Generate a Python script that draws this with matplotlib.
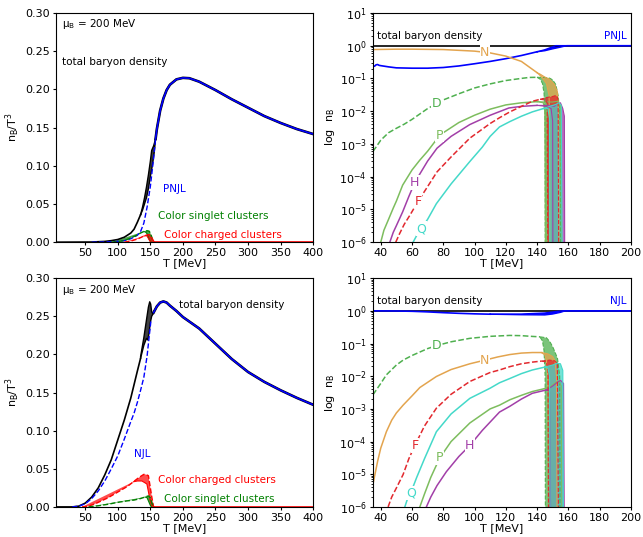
import numpy as np
import matplotlib
matplotlib.use("Agg")
import matplotlib.pyplot as plt

plt.rcParams['font.size'] = 8
plt.rcParams['xtick.major.size'] = 2.5
plt.rcParams['ytick.major.size'] = 2.5
plt.rcParams['xtick.major.pad'] = 2
plt.rcParams['ytick.major.pad'] = 2
plt.rcParams['ytick.minor.size'] = 1.5

# ---------------- linear panels: n_B / T^3 ----------------
# PNJL (top left)
T_pn_blue = [5, 60, 80, 100, 110, 120, 130, 135, 140, 145, 150, 155, 158, 160, 165, 170, 175,
             180, 190, 200, 210, 225, 250, 275, 300, 325, 350, 375, 400]
n_pn_blue = [0, 0, 0.0003, 0.001, 0.002, 0.0045, 0.009, 0.014, 0.025, 0.046, 0.073, 0.11, 0.135,
             0.148, 0.172, 0.188, 0.199, 0.206, 0.213, 0.215, 0.2145, 0.21, 0.199, 0.187, 0.176,
             0.165, 0.156, 0.148, 0.1415]
T_pn_tot = [5, 60, 80, 90, 100, 110, 120, 125, 130, 135]
n_pn_tot = [0, 0.0002, 0.001, 0.002, 0.0035, 0.0065, 0.012, 0.017, 0.026, 0.036]
T_pn_tot_hi = [135, 138, 141, 144, 147, 150, 152, 155, 158]
n_pn_tot_hi = [0.036, 0.046, 0.058, 0.072, 0.088, 0.106, 0.12, 0.126, 0.135]
T_pn_tot_lo = [135, 138, 141, 144, 147, 150, 153, 156, 158]
n_pn_tot_lo = [0.036, 0.042, 0.05, 0.058, 0.07, 0.086, 0.1, 0.118, 0.135]
T_pn_sing = [90, 100, 110, 120, 130, 135, 140, 145, 148, 150, 152, 154, 156]
n_pn_sing = [0, 0.0008, 0.002, 0.0055, 0.0095, 0.012, 0.014, 0.015, 0.0145, 0.012, 0.007, 0.002, 0]
T_pn_sing_lo = [140, 143, 145, 147, 149, 151]
n_pn_sing_lo = [0.014, 0.013, 0.011, 0.006, 0.002, 0]
T_pn_char = [110, 120, 130, 135, 140, 145, 148, 150, 152, 154, 156]
n_pn_char = [0, 0.0015, 0.004, 0.006, 0.008, 0.0095, 0.0098, 0.009, 0.006, 0.003, 0]
T_pn_char_lo = [140, 143, 145, 147, 149, 150.5]
n_pn_char_lo = [0.008, 0.0085, 0.008, 0.005, 0.002, 0]

# NJL (bottom left)
T_nj_blue = [5, 30, 40, 50, 60, 70, 80, 90, 100, 110, 120, 125, 130, 135, 140, 145, 148, 151,
             155, 160, 165, 170, 175, 180, 190, 200, 225, 250, 275, 300, 325, 350, 375, 400]
n_nj_blue = [0, 0, 0.001, 0.004, 0.011, 0.021, 0.034, 0.05, 0.067, 0.089, 0.112, 0.123, 0.137,
             0.153, 0.17, 0.198, 0.222, 0.245, 0.255, 0.263, 0.268, 0.2695, 0.268, 0.264, 0.257,
             0.249, 0.234, 0.214, 0.194, 0.177, 0.164, 0.153, 0.143, 0.134]
T_nj_tot = [5, 30, 40, 50, 60, 70, 80, 90, 100, 110, 120, 130, 135]
n_nj_tot = [0, 0, 0.001, 0.005, 0.013, 0.025, 0.042, 0.062, 0.088, 0.114, 0.143, 0.178, 0.195]
T_nj_tot_hi = [135, 140, 144, 147, 149, 150.5, 152, 154, 156]
n_nj_tot_hi = [0.197, 0.222, 0.245, 0.262, 0.269, 0.266, 0.256, 0.253, 0.257]
T_nj_tot_lo = [135, 140, 144, 146, 148, 150, 152, 154, 156]
n_nj_tot_lo = [0.195, 0.212, 0.221, 0.219, 0.228, 0.242, 0.25, 0.253, 0.257]
T_nj_char = [45, 55, 65, 75, 85, 95, 105, 115, 124, 130, 135, 140, 143, 147, 150, 152.4, 155]
n_nj_char = [0, 0.001, 0.004, 0.008, 0.012, 0.017, 0.022, 0.027, 0.033, 0.037, 0.04, 0.0427,
             0.0425, 0.041, 0.025, 0.012, 0]
T_nj_char_lo = [124, 130, 137, 141, 144.7, 147, 149.8, 152.4]
n_nj_char_lo = [0.033, 0.034, 0.034, 0.032, 0.03, 0.02, 0.008, 0]
T_nj_sing = [55, 70, 85, 100, 115, 125, 135, 142, 147, 150, 152, 154, 156]
n_nj_sing = [0, 0.0015, 0.0035, 0.006, 0.008, 0.009, 0.011, 0.013, 0.0145, 0.012, 0.006, 0.002, 0]
T_nj_sing_lo = [142, 145, 148, 150, 151.5]
n_nj_sing_lo = [0.013, 0.012, 0.006, 0.002, 0]

T_zero_tail = [155, 400]

# ---------------- log panels: cluster fractions ----------------
FLOOR = 1e-8
colors = {'N': '#e3a44e', 'D': '#4fb04f', 'P': '#7dbd5e', 'H': '#a23fa8', 'F': '#e2282e', 'Q': '#44d9c9'}
styles = {'N': '-', 'D': '--', 'P': '-', 'H': '-', 'F': '--', 'Q': '-'}

# PNJL (top right): main curve, upper band edge, lower band edge
pn = {
    'N': ([35, 50, 60, 80, 100, 110, 120, 130, 140],
          [0.76, 0.78, 0.78, 0.76, 0.68, 0.6, 0.48, 0.33, 0.15],
          [140, 142, 145, 148, 151, 153, 153.8, 154.1], [0.15, 0.135, 0.11, 0.094, 0.067, 0.04, 0.01, FLOOR],
          [140, 143, 146, 147.7, 148.1, 148.2], [0.15, 0.11, 0.07, 0.03, 0.003, FLOOR]),
    'D': ([35, 37, 40, 45, 50, 55, 60, 70, 80, 90, 100, 110, 120, 130, 135, 140],
          [5.9e-4, 8e-4, 1.3e-3, 2.2e-3, 3.0e-3, 4.0e-3, 5.6e-3, 1.2e-2, 2.2e-2, 3.4e-2, 5.1e-2,
           6.8e-2, 8.6e-2, 0.1, 0.107, 0.108],
          [140, 145, 148, 150, 152, 153.5, 154.5, 155, 155.2], [0.108, 0.107, 0.102, 0.09, 0.065, 0.03, 0.01, 1e-3, FLOOR],
          [140, 142, 143.5, 144.5, 145, 145.2, 145.3], [0.108, 0.095, 0.07, 0.035, 0.01, 1e-3, FLOOR]),
    'P': ([40, 42, 45, 48, 50, 54, 60, 65, 70, 78, 90, 100, 110, 120, 130, 140],
          [1e-6, 2.3e-6, 5e-6, 1.1e-5, 1.8e-5, 5.5e-5, 1.6e-4, 3.2e-4, 6e-4, 1.9e-3, 4.5e-3,
           7.5e-3, 1.15e-2, 1.55e-2, 1.8e-2, 1.95e-2],
          [140, 146, 150, 153, 155, 156], [0.0195, 0.019, 0.019, 0.02, 0.015, FLOOR],
          [140, 144, 145, 145.5], [0.0195, 0.018, 0.01, FLOOR]),
    'H': ([45.8, 48, 50, 54, 58, 62, 70, 76, 85, 97, 110, 122, 130, 140],
          [1e-6, 2e-6, 3.2e-6, 8.4e-6, 2.5e-5, 7e-5, 3e-4, 7.4e-4, 1.7e-3, 3.9e-3, 7.5e-3,
           1.25e-2, 1.4e-2, 1.5e-2],
          [140, 148, 151, 153, 155, 156.5, 157.5, 157.8], [0.015, 0.015, 0.014, 0.017, 0.018, 0.012, 0.007, FLOOR],
          [140, 146, 149, 150, 150.2], [0.015, 0.014, 0.012, 0.005, FLOOR]),
    'F': ([49.6, 52, 55, 58.6, 64, 70, 76, 85, 97, 110, 116, 122.6, 130, 137, 142],
          [1e-6, 1.8e-6, 3.5e-6, 6.6e-6, 1.8e-5, 5e-5, 1.4e-4, 4e-4, 1.5e-3, 4.2e-3, 6.3e-3,
           9.5e-3, 1.4e-2, 2e-2, 2.3e-2],
          [142, 146, 150, 152, 153, 153.5, 154], [0.023, 0.026, 0.028, 0.03, 0.027, 0.02, FLOOR],
          [142, 145, 146.5, 147], [0.023, 0.022, 0.018, FLOOR]),
    'Q': ([60.7, 63, 66, 70, 75.6, 85, 97, 105, 110, 116, 122.6, 130, 137, 144],
          [1e-6, 1.6e-6, 2.6e-6, 5e-6, 1.5e-5, 6e-5, 2.9e-4, 8e-4, 1.7e-3, 3.3e-3, 4.8e-3, 7e-3,
           9.5e-3, 1.2e-2],
          [144, 148, 152, 154, 155.5, 156.3], [0.012, 0.014, 0.016, 0.018, 0.015, FLOOR],
          [144, 147, 148, 148.3], [0.012, 0.012, 0.006, FLOOR]),
}
pn_blue = ([35, 36, 37, 38, 39, 40, 45, 50, 60, 70, 80, 90, 100, 110, 120, 130, 137, 140],
           [0.24, 0.235, 0.26, 0.265, 0.25, 0.245, 0.225, 0.21, 0.205, 0.205, 0.215, 0.24, 0.28,
            0.33, 0.4, 0.5, 0.6, 0.65],
           [140, 145, 150, 152, 200], [0.65, 0.75, 0.92, 1.0, 1.0],
           [140, 145, 150, 155, 159, 200], [0.65, 0.7, 0.8, 0.9, 1.0, 1.0])

# NJL (bottom right)
nj = {
    'D': ([35, 40, 43.6, 50, 54.3, 60, 70, 75.6, 85, 97, 110, 122.6, 130, 137, 142],
          [2.7e-3, 6e-3, 1.1e-2, 2.2e-2, 3.1e-2, 4.3e-2, 7e-2, 8.6e-2, 0.113, 0.144, 0.166,
           0.177, 0.174, 0.165, 0.16],
          [142, 146, 148.2, 150, 151.4, 153.1, 154.5, 154.8], [0.16, 0.15, 0.114, 0.08, 0.056, 0.035, 0.01, FLOOR],
          [142, 143.5, 144.5, 145.2, 145.4], [0.155, 0.12, 0.06, 0.01, FLOOR]),
    'N': ([35, 38, 40, 43.6, 47, 50, 54.3, 60, 65, 75.6, 85, 97, 106.6, 115, 122.6, 130, 137, 143],
          [4.9e-6, 2.5e-5, 6.3e-5, 2e-4, 4.5e-4, 7.5e-4, 1.3e-3, 2.5e-3, 4.5e-3, 9.8e-3, 1.6e-2,
           2.4e-2, 3.1e-2, 3.9e-2, 4.6e-2, 5.1e-2, 5.3e-2, 5.3e-2],
          [143, 147, 150, 151.5, 152.5, 153], [0.053, 0.048, 0.04, 0.03, 0.01, FLOOR],
          [143, 145, 146, 147, 147.5], [0.052, 0.045, 0.03, 0.008, FLOOR]),
    'F': ([44.7, 47, 50, 54.3, 58, 61.8, 68, 75.6, 85, 97, 110, 116, 122.6, 130, 137, 143],
          [1e-6, 2e-6, 3.8e-6, 9.8e-6, 3e-5, 7.6e-5, 3e-4, 1.05e-3, 2.8e-3, 6.9e-3, 1.3e-2,
           1.55e-2, 1.96e-2, 2.4e-2, 2.7e-2, 2.9e-2],
          [143, 148, 151, 153, 154], [0.029, 0.031, 0.03, 0.025, FLOOR],
          [143, 146, 147, 147.5], [0.029, 0.027, 0.015, FLOOR]),
    'Q': ([55.4, 57, 59.2, 63, 68, 75.6, 85, 97, 110, 116, 122.6, 130, 137, 145],
          [1e-6, 1.7e-6, 2.7e-6, 8e-6, 3e-5, 2e-4, 7e-4, 2.1e-3, 4.3e-3, 6.3e-3, 8.5e-3,
           1.2e-2, 1.55e-2, 1.9e-2],
          [145, 150, 153, 155, 156.5, 157], [0.019, 0.022, 0.025, 0.024, 0.015, FLOOR],
          [145, 147, 148, 148.5], [0.019, 0.018, 0.01, FLOOR]),
    'P': ([65, 68, 72, 77.8, 85, 97, 110, 116, 122.6, 130, 137, 146],
          [1e-6, 2.5e-6, 8e-6, 3.2e-5, 1e-4, 3.7e-4, 1e-3, 1.3e-3, 1.9e-3, 2.6e-3, 3.4e-3, 4.3e-3],
          [146, 149, 152, 154, 155.5, 156], [0.0043, 0.005, 0.0065, 0.007, 0.005, FLOOR],
          [146, 147, 147.5], [0.0043, 0.0035, FLOOR]),
    'H': ([69.2, 72, 76, 82, 90, 97, 105, 116, 122.6, 130, 137, 146],
          [1e-6, 2e-6, 4.5e-6, 1.2e-5, 3.5e-5, 7.6e-5, 2.2e-4, 8e-4, 1.2e-3, 2e-3, 3e-3, 3.8e-3],
          [146, 150, 153, 155, 157, 157.6], [0.0038, 0.005, 0.0065, 0.0075, 0.006, FLOOR],
          [146, 148, 149], [0.0038, 0.0035, FLOOR]),
}
nj_blue = ([35, 50, 60, 70, 80, 90, 100, 110],
           [1.0, 0.99, 0.97, 0.93, 0.88, 0.84, 0.81, 0.79],
           [110, 130, 145, 152, 156, 200], [0.79, 0.8, 0.86, 0.95, 1.0, 1.0],
           [110, 130, 145, 150, 155, 158, 200], [0.79, 0.76, 0.75, 0.8, 0.9, 1.0, 1.0])

T_lab_pn = {'N': 106.6, 'D': 75.6, 'P': 77.8, 'H': 61.8, 'F': 64, 'Q': 66}
T_lab_nj = {'D': 75.6, 'N': 106.6, 'F': 61.8, 'Q': 59.2, 'P': 77.8, 'H': 97}


def lin_panel(ax, Tb, nb, Tcut, Tt, nt, Tth, nth, Ttl, ntl, colored, texts):
    Tb = np.array(Tb)
    nb = np.array(nb)
    ax.plot(Tt, nt, color='k', lw=1.2)
    ax.fill(np.r_[Tth, Ttl[::-1]], np.r_[nth, ntl[::-1]], color='#404040', lw=0)
    ax.plot(Tth, nth, color='k', lw=1.0)
    ax.plot(Ttl, ntl, color='k', lw=1.0)
    m = Tb >= Tcut
    ax.plot(Tb[m], nb[m], color='k', lw=1.9)
    ax.plot(Tb[m], nb[m], color='blue', lw=1.2)
    m2 = (Tb <= Tcut) & (Tb > 20)
    ax.plot(Tb[m2], nb[m2], color='blue', lw=1.0, ls='--')
    for (T, n, Tl, nl, c) in colored:
        ax.fill(np.r_[T, Tl[::-1]], np.r_[n, nl[::-1]], color=c, alpha=0.7, lw=0)
        ax.plot(T, n, color=c, lw=1.0, ls='--')
        ax.plot(Tl, nl, color=c, lw=0.8)
    ax.plot(T_zero_tail, [0, 0], color='red', lw=1.2)
    ax.set_xlim(5, 400)
    ax.set_ylim(0, 0.30)
    ax.set_xticks(np.arange(50, 401, 50))
    ax.set_yticks(np.arange(0, 0.301, 0.05))
    ax.yaxis.set_major_formatter(matplotlib.ticker.FormatStrFormatter('%.2f'))
    ax.set_xlabel('T [MeV]', labelpad=0)
    ax.set_ylabel(r'n$_\mathrm{B}$/T$^3$', labelpad=2)
    ax.text(0.025, 0.95, r'μ$_\mathrm{B}$ = 200 MeV', transform=ax.transAxes, va='center', fontsize=7.5)
    for (x, y, s, c) in texts:
        ax.text(x, y, s, color=c, va='center', fontsize=7.5)


def log_panel(ax, data, blue, labels, model):
    ax.set_yscale('log')
    ax.plot([35, 200], [1, 1], color='k', lw=1.2)
    bT, bn, bhT, bhn, blT, bln = blue
    ax.fill(np.r_[bhT, blT[::-1]], np.r_[bhn, bln[::-1]], color='blue', lw=0)
    ax.plot(bT, bn, color='blue', lw=1.2)
    ax.plot(bhT, bhn, color='blue', lw=1.0)
    ax.plot(blT, bln, color='blue', lw=1.0)
    for s in ['D', 'N', 'P', 'H', 'F', 'Q']:
        T, n, Th, nh, Tl, nl = data[s]
        c = colors[s]
        ax.fill(np.r_[Th, Tl[::-1]], np.r_[nh, nl[::-1]], color=c, alpha=0.75, lw=0)
        ax.plot(T, n, color=c, ls=styles[s], lw=1.1)
        ax.plot(Th, nh, color=c, ls=styles[s], lw=0.8)
        ax.plot(Tl, nl, color=c, ls=styles[s], lw=0.8)
        tl = labels[s]
        yl = 10 ** np.interp(tl, T, np.log10(n))
        ax.text(tl, yl, s, color=c, fontsize=9, ha='center', va='center',
                bbox=dict(boxstyle='square,pad=0.05', fc='white', ec='none'))
    ax.set_xlim(35, 200)
    ax.set_ylim(1e-6, 10)
    ax.set_xticks(np.arange(40, 201, 20))
    ax.set_xlabel('T [MeV]', labelpad=0)
    ax.set_ylabel(r'log  n$_\mathrm{B}$', labelpad=2)
    ax.text(37.7, 1.95, 'total baryon density', va='center', fontsize=7.5)
    ax.text(197.5, 1.95, model, color='blue', va='center', ha='right', fontsize=7.5)


fig = plt.figure(figsize=(6.43, 5.37), dpi=100)
ax1 = fig.add_axes([0.087, 0.549, 0.400, 0.427])
ax2 = fig.add_axes([0.580, 0.549, 0.401, 0.427])
ax3 = fig.add_axes([0.087, 0.056, 0.400, 0.426])
ax4 = fig.add_axes([0.580, 0.056, 0.401, 0.426])

lin_panel(ax1, T_pn_blue, n_pn_blue, 158, T_pn_tot, n_pn_tot, T_pn_tot_hi, n_pn_tot_hi,
          T_pn_tot_lo, n_pn_tot_lo,
          [(T_pn_sing, n_pn_sing, T_pn_sing_lo, n_pn_sing_lo, 'green'),
           (T_pn_char, n_pn_char, T_pn_char_lo, n_pn_char_lo, 'red')],
          [(169, 0.069, 'PNJL', 'blue'), (162.4, 0.034, 'Color singlet clusters', 'green'),
           (171.6, 0.0088, 'Color charged clusters', 'red')])
ax1.text(0.025, 0.786, 'total baryon density', transform=ax1.transAxes, va='center', fontsize=7.5)

lin_panel(ax3, T_nj_blue, n_nj_blue, 153, T_nj_tot, n_nj_tot, T_nj_tot_hi, n_nj_tot_hi,
          T_nj_tot_lo, n_nj_tot_lo,
          [(T_nj_char, n_nj_char, T_nj_char_lo, n_nj_char_lo, 'red'),
           (T_nj_sing, n_nj_sing, T_nj_sing_lo, n_nj_sing_lo, 'green')],
          [(194.6, 0.265, 'total baryon density', 'k'), (124.2, 0.069, 'NJL', 'blue'),
           (162.5, 0.035, 'Color charged clusters', 'red'),
           (171.7, 0.010, 'Color singlet clusters', 'green')])

log_panel(ax2, pn, pn_blue, T_lab_pn, 'PNJL')
log_panel(ax4, nj, nj_blue, T_lab_nj, 'NJL')

fig.savefig('out.png', dpi=100)
